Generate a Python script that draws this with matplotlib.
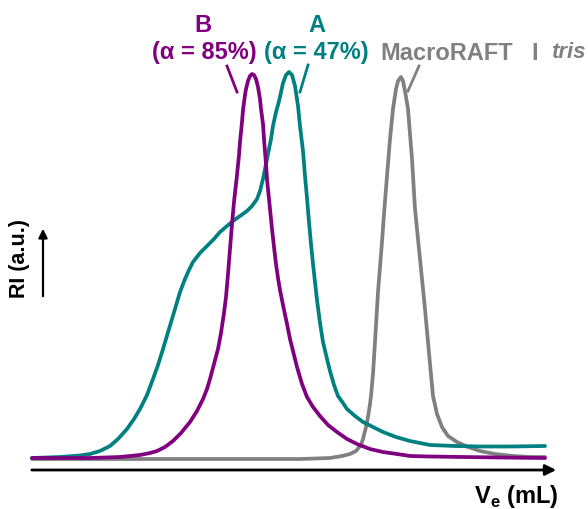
import matplotlib.pyplot as plt

plt.rcParams['font.family'] = ['Liberation Sans', 'DejaVu Sans']
plt.rcParams['mathtext.fontset'] = 'custom'
plt.rcParams['mathtext.rm'] = 'Liberation Sans:bold'
plt.rcParams['mathtext.bf'] = 'Liberation Sans:bold'

# elution volume (arbitrary units) and RI signal (a.u.)
ve_b = [32, 90, 120, 140, 150, 157, 165, 173, 181, 190, 197, 203, 207, 210, 214, 218, 221, 224,
        226, 228, 230, 232, 234, 237, 239, 240, 242, 243, 245, 246, 248, 250, 252, 254, 256,
        258, 260, 261, 263, 264, 266, 267, 269, 270, 272, 274, 276, 278, 280, 283, 287, 290, 293,
        297, 302, 307, 313, 320, 328, 337, 347, 357, 370, 383, 397, 410, 430, 463, 500, 545]
ri_b = [2, 2, 3, 5, 7, 9, 13, 19, 27, 38, 49, 61, 71, 81, 96, 111, 127, 147,
        163, 186, 211, 236, 258, 285, 305, 318, 338, 350, 365, 371, 379, 384, 386, 385, 381,
        373, 361, 351, 336, 321, 296, 281, 261, 251, 231, 213, 196, 182, 170, 155, 136, 121, 109,
        93, 76, 63, 53, 44, 35, 28, 21, 16, 11, 8, 6, 4, 3.5, 3, 2.5, 2]

ve_a = [32, 60, 80, 90, 100, 110, 118, 127, 134, 140, 147, 153, 158, 163, 169, 175, 180, 185,
        189, 193, 200, 207, 214, 220, 227, 233, 240, 247, 252, 257, 260, 263, 266, 268, 271,
        273, 276, 278, 280, 283, 286, 289, 292, 295, 298, 300, 303, 305, 307, 309, 311, 313,
        315, 317, 320, 323, 327, 330, 334, 338, 343, 347, 355, 363, 373, 383, 396, 410,
        430, 455, 480, 510, 545]
ri_a = [2, 3, 4.5, 6, 9, 14, 21, 31, 41, 51, 65, 81, 95, 111, 131, 151, 168, 181,
        190, 198, 207, 214, 221, 228, 234, 239, 244, 249, 254, 261, 269, 281, 296, 306, 321,
        334, 348, 355, 363, 377, 385, 388, 385, 374, 354, 334, 309, 284, 262, 238, 216, 196,
        178, 160, 137, 118, 101, 89, 75, 64, 57, 51, 44, 38, 33, 28, 23, 19,
        15, 14, 13.5, 13.5, 14]

ve_macro = [32, 300, 330, 342, 350, 356, 361, 363, 366, 368, 370, 371, 373, 375, 378, 380, 382,
            384, 387, 390, 393, 396, 398, 401, 403, 405, 408, 410, 412, 415, 418, 420, 423,
            425, 428, 430, 433, 437, 442, 448, 457, 468, 480, 495, 513, 530, 545]
ri_macro = [1, 1, 2, 4, 6, 9, 15, 21, 33, 43, 56, 64, 86, 118, 168, 193, 218,
            246, 284, 321, 351, 371, 379, 383, 379, 369, 351, 326, 301, 251, 221, 201, 171,
            151, 118, 96, 64, 46, 33, 24, 18, 13, 9, 6, 4, 3, 3]

purple = '#800080'
teal = '#008080'
grey = '#808080'

fig = plt.figure(figsize=(5.88, 5.10), dpi=100)
ax = fig.add_axes([0, 0, 1, 1])
ax.set_xlim(0, 588)
ax.set_ylim(-49, 461)
ax.axis('off')

ax.plot(ve_macro, ri_macro, color=grey, lw=2.7, solid_capstyle='round', solid_joinstyle='round')
ax.plot(ve_a, ri_a, color=teal, lw=2.7, solid_capstyle='round', solid_joinstyle='round')
ax.plot(ve_b, ri_b, color=purple, lw=2.7, solid_capstyle='round', solid_joinstyle='round')

# axes drawn as arrows
ax.annotate('', xy=(559, -10), xytext=(29, -10),
            arrowprops=dict(arrowstyle='-|>', lw=2, color='black', mutation_scale=16))
ax.annotate('', xy=(43, 234), xytext=(43, 161),
            arrowprops=dict(arrowstyle='-|>', lw=1.6, color='black', mutation_scale=13))

ax.text(19, 203, 'RI (a.u.)', rotation=90, ha='center', va='center',
        fontsize=15.5, fontweight='bold')
ax.text(516, -36, r'V$_\mathbf{e}$ (mL)', ha='center', va='center',
        fontsize=17, fontweight='bold')

# peak labels
ax.text(203, 436, 'B', color=purple, ha='center', va='center', fontsize=17, fontweight='bold')
ax.text(204, 408, '(α = 85%)', color=purple, ha='center', va='center', fontsize=17, fontweight='bold')
ax.text(317, 436, 'A', color=teal, ha='center', va='center', fontsize=17, fontweight='bold')
ax.text(316, 408, '(α = 47%)', color=teal, ha='center', va='center', fontsize=17, fontweight='bold')
ax.text(380, 408, 'MacroRAFT', color=grey, ha='left', va='center', fontsize=17, fontweight='bold')
ax.text(531, 408, 'I', color=grey, ha='left', va='center', fontsize=17, fontweight='bold')
ax.text(551, 408, 'tris', color=grey, ha='left', va='center', fontsize=16, fontweight='bold',
        style='italic')

ax.plot([227, 237], [394, 368], color=purple, lw=2)
ax.plot([308, 300], [395, 368], color=teal, lw=2)
ax.plot([419, 408], [394, 369], color=grey, lw=2)

fig.savefig('out.png', dpi=100)
